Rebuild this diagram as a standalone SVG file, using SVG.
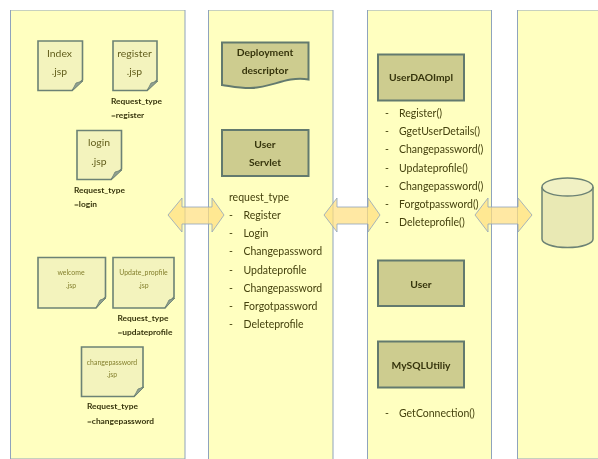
<svg xmlns="http://www.w3.org/2000/svg" width="598" height="459" viewBox="0 0 598 459">
<style>
text{font-family:Lato,"Liberation Sans",sans-serif;fill:#45420f;font-size:10.500px}
.c{text-anchor:middle}
.b{font-size:10.300px;font-weight:700;fill:#36340c}
.s{font-size:8.400px;font-weight:700;fill:#36340c}
.n{font-size:10.400px;fill:#625e1c}
.t{font-size:6.900px;fill:#85812f}
.panel{fill:#ffffc0;stroke:#8fa3bd;stroke-width:1}
.note{fill:#f3f3bd;stroke:#6c8274;stroke-width:1.600;stroke-linejoin:miter}
.fold{fill:#90a090;stroke:#6c8274;stroke-width:.8}
.box{fill:#cdcc8f;stroke:#637a6e;stroke-width:2}
.arr{fill:#ffdf80;fill-opacity:.72;stroke:#8fa3bd;stroke-width:.8}
</style>
<defs><filter id="soft" x="0" y="0" width="100%" height="100%"><feGaussianBlur stdDeviation="0.350"/></filter></defs>
<rect width="598" height="459" fill="#fff"/>
<g filter="url(#soft)">
<g id="panels">
<path class="panel" d="M185 10H10.500V459H185Z"/>
<path class="panel" d="M208.500 459V10H333V459"/>
<path class="panel" d="M367.500 459V10H491.500V459"/>
<path class="panel" d="M598 10H517.500V459H598"/>
</g>
<g id="node-index"><path class="note" d="M38 41H82.500V80L72 90.500H38Z"/><path class="fold" d="M83 81L76 83L72 91Z"/><text class="c n" x="59.500" y="56.500">Index</text><text class="c n" x="59.500" y="75">.jsp</text></g>
<g id="node-register"><path class="note" d="M113 41H157V80L147 90.500H113Z"/><path class="fold" d="M158 81L151 83L147 91Z"/><text class="c n" x="134.500" y="56.500">register</text><text class="c n" x="134.500" y="75">.jsp</text><text class="s" x="111" y="103.500">Request_type</text><text class="s" x="111" y="118">=register</text></g>
<g id="node-login"><path class="note" d="M77 130.500H121.500V169L111 179.500H77Z"/><path class="fold" d="M122 170L115 172L111 180Z"/><text class="c n" x="99" y="146">login</text><text class="c n" x="99" y="164.500">.jsp</text><text class="s" x="74" y="192.500">Request_type</text><text class="s" x="74" y="207">=login</text></g>
<g id="node-welcome"><path class="note" d="M38 257.500H105.500V297L96 308H38Z"/><path class="fold" d="M106 298L100 300L96 308Z"/><text class="c t" x="71" y="275">welcome</text><text class="c t" x="71" y="288">.jsp</text></g>
<g id="node-update"><path class="note" d="M113 257.500H174V297L165 308H113Z"/><path class="fold" d="M175 298L169 300L165 308Z"/><text class="c t" x="143.500" y="275">Update_propfile</text><text class="c t" x="143.500" y="288">.jsp</text><text class="s" x="117.500" y="320.500">Request_type</text><text class="s" x="117.500" y="335">=updateprofile</text></g>
<g id="node-changepassword"><path class="note" d="M81.500 347H143V387L134 396.500H81.500Z"/><path class="fold" d="M144 387L138 389L134 397Z"/><text class="c t" x="112" y="364.500">changepassword</text><text class="c t" x="112" y="377">.jsp</text><text class="s" x="87" y="409">Request_type</text><text class="s" x="87" y="423.500">=changepassword</text></g>
<g id="node-descriptor"><path class="box" d="M222 42.500H308.500V79.500C285 76 272 88 250 88C238 88 230 86 222 85Z"/><text class="c b" x="265" y="55.500">Deployment</text><text class="c b" x="265" y="74">descriptor</text></g>
<g id="node-servlet"><rect class="box" x="222" y="130" width="86.500" height="46"/><text class="c b" x="265" y="147.500">User</text><text class="c b" x="265" y="166">Servlet</text></g>
<g id="servlet-list"><text x="229" y="201">request_type</text>
<text x="229" y="219">-</text><text x="243.500" y="219">Register</text>
<text x="229" y="237">-</text><text x="243.500" y="237">Login</text>
<text x="229" y="255">-</text><text x="243.500" y="255">Changepassword</text>
<text x="229" y="274">-</text><text x="243.500" y="274">Updateprofile</text>
<text x="229" y="292">-</text><text x="243.500" y="292">Changepassword</text>
<text x="229" y="310">-</text><text x="243.500" y="310">Forgotpassword</text>
<text x="229" y="328">-</text><text x="243.500" y="328">Deleteprofile</text></g>
<g id="node-dao"><rect class="box" x="378" y="54.500" width="86" height="46"/><text class="c b" x="421" y="81">UserDAOImpl</text></g>
<g id="dao-list">
<text x="385" y="117">-</text><text x="399" y="117">Register()</text>
<text x="385" y="135">-</text><text x="399" y="135">GgetUserDetails()</text>
<text x="385" y="153">-</text><text x="399" y="153">Changepassword()</text>
<text x="385" y="172">-</text><text x="399" y="172">Updateprofile()</text>
<text x="385" y="190">-</text><text x="399" y="190">Changepassword()</text>
<text x="385" y="208">-</text><text x="399" y="208">Forgotpassword()</text>
<text x="385" y="226">-</text><text x="399" y="226">Deleteprofile()</text></g>
<g id="node-user"><rect class="box" x="378" y="260.500" width="86" height="45.500"/><text class="c b" x="421" y="287.500">User</text></g>
<g id="node-mysql"><rect class="box" x="378" y="341.500" width="86" height="46"/><text class="c b" x="421" y="368.500">MySQLUtiliy</text></g>
<g id="mysql-list"><text x="385" y="417">-</text><text x="399" y="417">GetConnection()</text></g>
<g id="node-db"><path d="M542 187V239C542 243.500 553 247.500 567.500 247.500S593 243.500 593 239V187" fill="#e9e9b4" stroke="#6c8274" stroke-width="1.500"/><ellipse cx="567.500" cy="187" rx="25.500" ry="9" fill="#f1f1c4" stroke="#6c8274" stroke-width="1.500"/></g>
<g id="connectors">
<path class="arr" d="M168 215L182 198V207H212V198L224 215L212 232V224H182V232Z"/>
<path class="arr" d="M324 215L337 198V207H368V198L380 215L368 232V224H337V232Z"/>
<path class="arr" d="M475 215L488 198V207H518V198L532 215L518 232V224H488V232Z"/>
</g>
</g>
</svg>
